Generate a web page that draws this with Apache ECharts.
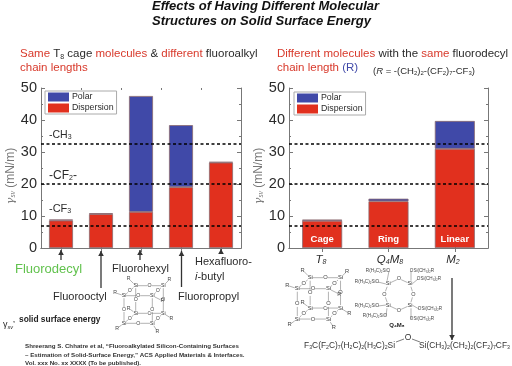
<!DOCTYPE html>
<html><head><meta charset="utf-8">
<style>html,body{margin:0;padding:0;background:#fff}#c{width:512px;height:366px}</style>
<script src="https://cdn.jsdelivr.net/npm/echarts@6/dist/echarts.min.js"></script>
</head><body><div id="c"></div>
<script>
const leftCategories = ['Fluorodecyl','Fluorooctyl','Fluorohexyl','Fluoropropyl','Hexafluoro-i-butyl'];
const leftDispersion = [8.6, 10.6, 11.3, 19.0, 26.7];
const leftPolar = [0.3, 0.3, 36.2, 19.4, 0.2];
const rightCategories = ['Cage','Ring','Linear'];
const rightDispersion = [8.5, 14.6, 31.0];
const rightPolar = [0.4, 0.8, 8.7];
const referenceLevels = [7, 20, 32.5];
const yTicks = {min:0, max:50, interval:10};

const RED='#e1301e', BLUE='#4049a8', AX='#777', TXT='#2b2b2b', LRED='#d8392b';
const FONT='"Liberation Sans", Arial, sans-serif';
const chart = echarts.init(document.getElementById('c'));

function text(x,y,t,o={}){
  return {type:'text',silent:true,z:20,x,y,style:Object.assign({text:t,fill:o.fill||TXT,font:(o.weight||'')+' '+(o.size||12)+'px '+FONT,
    align:o.align||'left',verticalAlign:'middle',rich:o.rich},{})};
}
function line(pts,o={}){
  return {type:'polyline',silent:true,z:o.z||15,shape:{points:pts},style:{stroke:o.stroke||'#555',lineWidth:o.w||0.6,fill:'none'}};
}
function arrow(x,y1,y2,w=1.3,c='#333'){
  const d=y2>y1?-1:1;
  return [line([[x,y1],[x,y2]],{stroke:c,w}),
    {type:'polygon',silent:true,z:15,shape:{points:[[x,y2],[x-2.8,y2+d*5],[x+2.8,y2+d*5]]},style:{fill:c}}];
}
function cage(ox,oy,s){
  const P=(x,y)=>[ox+x*s,oy+y*s];
  const si={a:P(11.7,0),b:P(39.3,0),c:P(0,10),d:P(28.3,10),e:P(11.7,27.6),f:P(39.3,27.6),g:P(0,37.6),h:P(28.3,37.6)};
  const edges=[['a','b'],['a','c'],['b','d'],['c','d'],['e','f'],['g','h'],['e','g'],['f','h'],['a','e'],['b','f'],['c','g'],['d','h']];
  const out=[], fs=5.2*s;
  edges.forEach(([m,n])=>{
    out.push(line([si[m],si[n]],{stroke:'#666',w:0.5}));
    const mx=(si[m][0]+si[n][0])/2,my=(si[m][1]+si[n][1])/2;
    out.push({type:'text',silent:true,z:16,x:mx,y:my,style:{text:'O',fill:'#444',font:fs+'px '+FONT,align:'center',verticalAlign:'middle',backgroundColor:'#fff'}});
  });
  const rr=[[11.7,0,-7,-7],[39.3,0,6,-6],[0,10,-9,-3],[28.3,10,10,5],[11.7,27.6,-7,-5],[39.3,27.6,8,5],[0,37.6,-7,5],[28.3,37.6,5,8]];
  rr.forEach(([x,y,dx,dy])=>{
    const p=P(x,y),q=[p[0]+dx*s,p[1]+dy*s];
    out.push(line([p,[q[0]-dx*0.2,q[1]-dy*0.2]],{stroke:'#666',w:0.5}));
    out.push({type:'text',silent:true,z:16,x:q[0],y:q[1],style:{text:'R',fill:'#444',font:fs+'px '+FONT,align:'center',verticalAlign:'middle'}});
  });
  Object.values(si).forEach(p=>out.push({type:'text',silent:true,z:17,x:p[0],y:p[1],style:{text:'Si',fill:'#333',font:fs+'px '+FONT,align:'center',verticalAlign:'middle',backgroundColor:'#fff'}}));
  return out;
}
function ring(){
  const si=[[388.3,283.7],[410,283.7],[410,305.3],[388.3,305.3]];
  const o=[[399,278.7],[413.3,294.3],[399,310.3],[384.3,294.3]];
  const out=[];
  out.push(line([si[0],o[0],si[1],o[1],si[2],o[2],si[3],o[3],si[0]],{stroke:'#666',w:0.5}));
  o.forEach(p=>out.push({type:'text',silent:true,z:16,x:p[0],y:p[1],style:{text:'O',fill:'#444',font:'5.5px '+FONT,align:'center',verticalAlign:'middle',backgroundColor:'#fff'}}));
  si.forEach(p=>out.push({type:'text',silent:true,z:17,x:p[0],y:p[1],style:{text:'Si',fill:'#333',font:'5.5px '+FONT,align:'center',verticalAlign:'middle',backgroundColor:'#fff'}}));
  const L='R(H\u2083C)\u2082SiO', Rr='OSi(CH\u2083)\u2082R';
  [[378,271,0,L,387,281],[367,282,0,L,386,284],[367,306,0,L,386,305],[375,316,0,L,387,308],
   [422,271,0,Rr,411,281],[429,279,0,Rr,412,284],[430,309,0,Rr,412,305],[422,319,0,Rr,411,308]].forEach(([x,y,_,t,bx,by])=>{
    const ex=x+(x<399?11:-11);
    out.push(line([[ex,y],[bx,by]],{stroke:'#666',w:0.5}));
    out.push({type:'text',silent:true,z:16,x,y,style:{text:t,fill:'#444',font:'4.6px '+FONT,align:'center',verticalAlign:'middle'}});
  });
  out.push({type:'text',silent:true,z:16,x:397,y:325,style:{text:'Q\u2084M\u2088',fill:'#222',font:'bold 6px '+FONT,align:'center',verticalAlign:'middle'}});
  return out;
}

const nameRich={g:{fontSize:11,fontStyle:'italic',fontFamily:'"DejaVu Serif",serif',fill:TXT},
  s:{fontSize:6.5,fontStyle:'italic',fontFamily:FONT,fill:TXT,verticalAlign:'bottom'},
  n:{fontSize:12,fontFamily:FONT,fill:TXT}};
function yAxes(gi){
  return [{gridIndex:gi,type:'value',min:yTicks.min,max:yTicks.max,interval:yTicks.interval,
      name:'{g|\u03b3}{s|sv} {n|(mN/m)}',nameLocation:'middle',nameGap:gi?18:19,nameRotate:90,
      nameTextStyle:{rich:nameRich,padding:[0,16,0,0]},
      axisLine:{show:true,lineStyle:{color:AX}},axisTick:{show:true,inside:true,length:4,lineStyle:{color:AX}},
      minorTick:{show:true,splitNumber:2,length:2,lineStyle:{color:AX}},splitLine:{show:false},
      axisLabel:{fontSize:14.5,color:TXT,fontFamily:FONT,margin:4}},
    {gridIndex:gi,type:'value',position:'right',min:yTicks.min,max:yTicks.max,interval:yTicks.interval,
      axisLine:{show:true,lineStyle:{color:AX}},axisTick:{show:true,inside:true,length:4,lineStyle:{color:AX}},
      minorTick:{show:true,splitNumber:2,length:2,lineStyle:{color:AX}},splitLine:{show:false},axisLabel:{show:false}}];
}
function xAxes(gi,cats){
  const base={gridIndex:gi,type:'category',data:cats,axisLabel:{show:false,interval:0},splitLine:{show:false}};
  return [
    Object.assign({},base,{position:'bottom',axisLine:{show:true,lineStyle:{color:AX}},axisTick:{show:true,interval:0,inside:true,alignWithLabel:true,length:4,lineStyle:{color:AX}}}),
    Object.assign({},base,{position:'top',axisLine:{show:true,lineStyle:{color:AX}},axisTick:{show:true,interval:0,inside:true,alignWithLabel:true,length:4,lineStyle:{color:AX}}}),
    Object.assign({},base,{position:'top',axisLine:{show:false},axisTick:{show:gi===0,interval:0,inside:true,length:2,lineStyle:{color:AX}}})
  ];
}
function bars(xi,yi,disp,pol,bw,withLabel){
  const itemStyle=c=>({color:c,borderColor:'#8a6a70',borderWidth:0.8});
  return [
    {name:'Dispersion',type:'bar',stack:'s'+xi,xAxisIndex:xi,yAxisIndex:yi,data:disp,barWidth:bw,itemStyle:itemStyle(RED),
      label:withLabel?{show:true,position:'insideBottom',distance:4,color:'#fff',fontWeight:'bold',fontSize:9.5,fontFamily:FONT,formatter:p=>p.name}:{show:false},
      emphasis:{disabled:true},
      markLine:{silent:true,symbol:'none',z:12,label:{show:false},lineStyle:{color:'#000',type:[3,2.5],width:1.6},
        data:referenceLevels.map(v=>({yAxis:v}))}},
    {name:'Polar',type:'bar',stack:'s'+xi,xAxisIndex:xi,yAxisIndex:yi,data:pol,barWidth:bw,itemStyle:itemStyle(BLUE),emphasis:{disabled:true}}
  ];
}
function legend(left,top){
  return {data:['Polar','Dispersion'],orient:'vertical',left,top,padding:[1,3,1,3],itemGap:1,itemWidth:21,itemHeight:9,
    borderColor:'#aaa',borderWidth:1,backgroundColor:'#fff',selectedMode:false,z:8,
    itemStyle:{borderWidth:0},
    textStyle:{fontSize:8.8,lineHeight:10,color:TXT,fontFamily:FONT,padding:[0,0,0,-2]},icon:'rect'};
}

const graphics=[
  {type:'text',silent:true,z:20,x:20,y:54,style:{text:'{r|Same }{k|T}{s|8}{k| cage }{r|molecules }{k|& }{r|different }{k|fluoroalkyl}',verticalAlign:'middle',
    rich:{r:{fontSize:11.5,fill:LRED,fontFamily:FONT},k:{fontSize:11.5,fill:TXT,fontFamily:FONT},s:{fontSize:7,fill:TXT,fontFamily:FONT,padding:[6,0,0,0]}}}},
  text(20,68,'chain lengths',{size:11.5,fill:LRED}),
  {type:'text',silent:true,z:20,x:277,y:54,style:{text:'{r|Different molecules }{k|with the }{r|same }{k|fluorodecyl}',verticalAlign:'middle',
    rich:{r:{fontSize:11.5,fill:LRED,fontFamily:FONT},k:{fontSize:11.5,fill:TXT,fontFamily:FONT}}}},
  {type:'text',silent:true,z:20,x:277,y:68,style:{text:'{r|chain length }{b|(R)}',verticalAlign:'middle',
    rich:{r:{fontSize:11.5,fill:LRED,fontFamily:FONT},b:{fontSize:11.5,fill:BLUE,fontFamily:FONT}}}},
  {type:'text',silent:true,z:20,x:373,y:71,style:{text:'{k|(}{i|R}{k| = -(CH}{s|2}{k|)}{s|2}{k|-(CF}{s|2}{k|)}{s|7}{k|-CF}{s|3}{k|)}',verticalAlign:'middle',
    rich:{k:{fontSize:9.5,fill:TXT,fontFamily:FONT},i:{fontSize:9.5,fontStyle:'italic',fill:TXT,fontFamily:FONT},s:{fontSize:6,fill:TXT,fontFamily:FONT,padding:[5,0,0,0]}}}},
  {type:'text',silent:true,z:20,x:49,y:135,style:{text:'{k|-CH}{s|3}',verticalAlign:'middle',rich:{k:{fontSize:10.5,fill:TXT,fontFamily:FONT},s:{fontSize:7,fill:TXT,fontFamily:FONT,padding:[5,0,0,0]}}}},
  {type:'text',silent:true,z:20,x:49,y:176,style:{text:'{k|-CF}{s|2}{k|-}',verticalAlign:'middle',rich:{k:{fontSize:12,fill:TXT,fontFamily:FONT},s:{fontSize:7,fill:TXT,fontFamily:FONT,padding:[5,0,0,0]}}}},
  {type:'text',silent:true,z:20,x:49,y:209,style:{text:'{k|-CF}{s|3}',verticalAlign:'middle',rich:{k:{fontSize:11,fill:TXT,fontFamily:FONT},s:{fontSize:7,fill:TXT,fontFamily:FONT,padding:[5,0,0,0]}}}},
  ...arrow(61,260,250),...arrow(101,288,251),...arrow(140,260,250),...arrow(181.5,287,251),...arrow(221,254,249),
  text(15,269,leftCategories[0],{size:13,fill:'#62c24e'}),
  text(53,297,leftCategories[1],{size:11}),
  text(112,269,leftCategories[2],{size:11}),
  text(178,297,leftCategories[3],{size:11}),
  text(195,262,'Hexafluoro-',{size:11}),
  {type:'text',silent:true,z:20,x:195,y:277,style:{text:'{i|i}{k|-butyl}',verticalAlign:'middle',rich:{i:{fontSize:11,fontStyle:'italic',fill:TXT,fontFamily:FONT},k:{fontSize:11,fill:TXT,fontFamily:FONT}}}},
  {type:'text',silent:true,z:20,x:3,y:325,style:{text:'{g|\u03b3}{s|sv}{g|\u2019}',verticalAlign:'middle',rich:{g:{fontSize:9,fill:'#222',fontFamily:FONT},s:{fontSize:5.5,fontStyle:'italic',fill:'#222',fontFamily:FONT,padding:[4,0,0,0]}}}},
  text(19,320,'solid surface energy',{size:8.4,weight:'bold',fill:'#222'}),
  text(25,346,'Shreerang S. Chhatre et al, \u201cFluoroalkylated Silicon-Containing Surfaces',{size:6.2,weight:'bold',fill:'#333'}),
  text(25,355,'\u2013 Estimation of Solid-Surface Energy,\u201d ACS Applied Materials & Interfaces.',{size:6.2,weight:'bold',fill:'#333'}),
  text(25,363,'Vol. xxx No. xx XXXX (To be published).',{size:6.2,weight:'bold',fill:'#333'}),
  {type:'text',silent:true,z:20,x:321,y:260,style:{text:'{i|T}{s|8}',align:'center',verticalAlign:'middle',rich:{i:{fontSize:11.5,fontStyle:'italic',fill:TXT,fontFamily:FONT},s:{fontSize:7,fontStyle:'italic',fill:TXT,fontFamily:FONT,padding:[5,0,0,0]}}}},
  {type:'text',silent:true,z:20,x:390,y:260,style:{text:'{i|Q}{s|4}{i|M}{s|8}',align:'center',verticalAlign:'middle',rich:{i:{fontSize:11.5,fontStyle:'italic',fill:TXT,fontFamily:FONT},s:{fontSize:7,fontStyle:'italic',fill:TXT,fontFamily:FONT,padding:[5,0,0,0]}}}},
  {type:'text',silent:true,z:20,x:453,y:260,style:{text:'{i|M}{s|2}',align:'center',verticalAlign:'middle',rich:{i:{fontSize:11.5,fontStyle:'italic',fill:TXT,fontFamily:FONT},s:{fontSize:7,fontStyle:'italic',fill:TXT,fontFamily:FONT,padding:[5,0,0,0]}}}},
  ...arrow(452,278,340,1.3,'#333'),
  {type:'text',silent:true,z:20,x:395,y:346,style:{text:'{k|F}{s|3}{k|C(F}{s|2}{k|C)}{s|7}{k|(H}{s|2}{k|C)}{s|2}{k|(H}{s|3}{k|C)}{s|2}{k|Si}',align:'right',verticalAlign:'middle',
    rich:{k:{fontSize:8.4,fill:'#333',fontFamily:FONT},s:{fontSize:5.2,fill:'#333',fontFamily:FONT,padding:[4,0,0,0]}}}},
  {type:'text',silent:true,z:20,x:419,y:346,style:{text:'{k|Si(CH}{s|3}{k|)}{s|2}{k|(CH}{s|2}{k|)}{s|2}{k|(CF}{s|2}{k|)}{s|7}{k|CF}{s|3}',verticalAlign:'middle',
    rich:{k:{fontSize:8.4,fill:'#333',fontFamily:FONT},s:{fontSize:5.2,fill:'#333',fontFamily:FONT,padding:[4,0,0,0]}}}},
  text(408,338,'O',{size:8.5,align:'center',fill:'#333'}),
  line([[396,342],[404,339]],{stroke:'#444',w:0.7}),line([[412,339],[420,342]],{stroke:'#444',w:0.7}),
  ...cage(124,285.7,1),
  ...cage(297.3,277.7,1.1),
  ...ring()
];

chart.setOption({
  animation:false,backgroundColor:'#fff',
  title:{text:'Effects of Having Different Molecular\nStructures on Solid Surface Energy',left:152,top:-1,padding:0,
    textStyle:{fontFamily:FONT,fontSize:13,fontWeight:'bold',fontStyle:'italic',color:'#111',lineHeight:15}},
  legend:[legend(45,91),legend(294,92)],
  grid:[{left:41,top:88,width:200,height:160,containLabel:false},{left:289,top:88,width:199,height:160,containLabel:false}],
  xAxis:[...xAxes(0,leftCategories),...xAxes(1,rightCategories)],
  yAxis:[...yAxes(0),...yAxes(1)],
  series:[...bars(0,0,leftDispersion,leftPolar,24,false),...bars(3,2,rightDispersion,rightPolar,40,true)],
  graphic:graphics
});
</script></body></html>
